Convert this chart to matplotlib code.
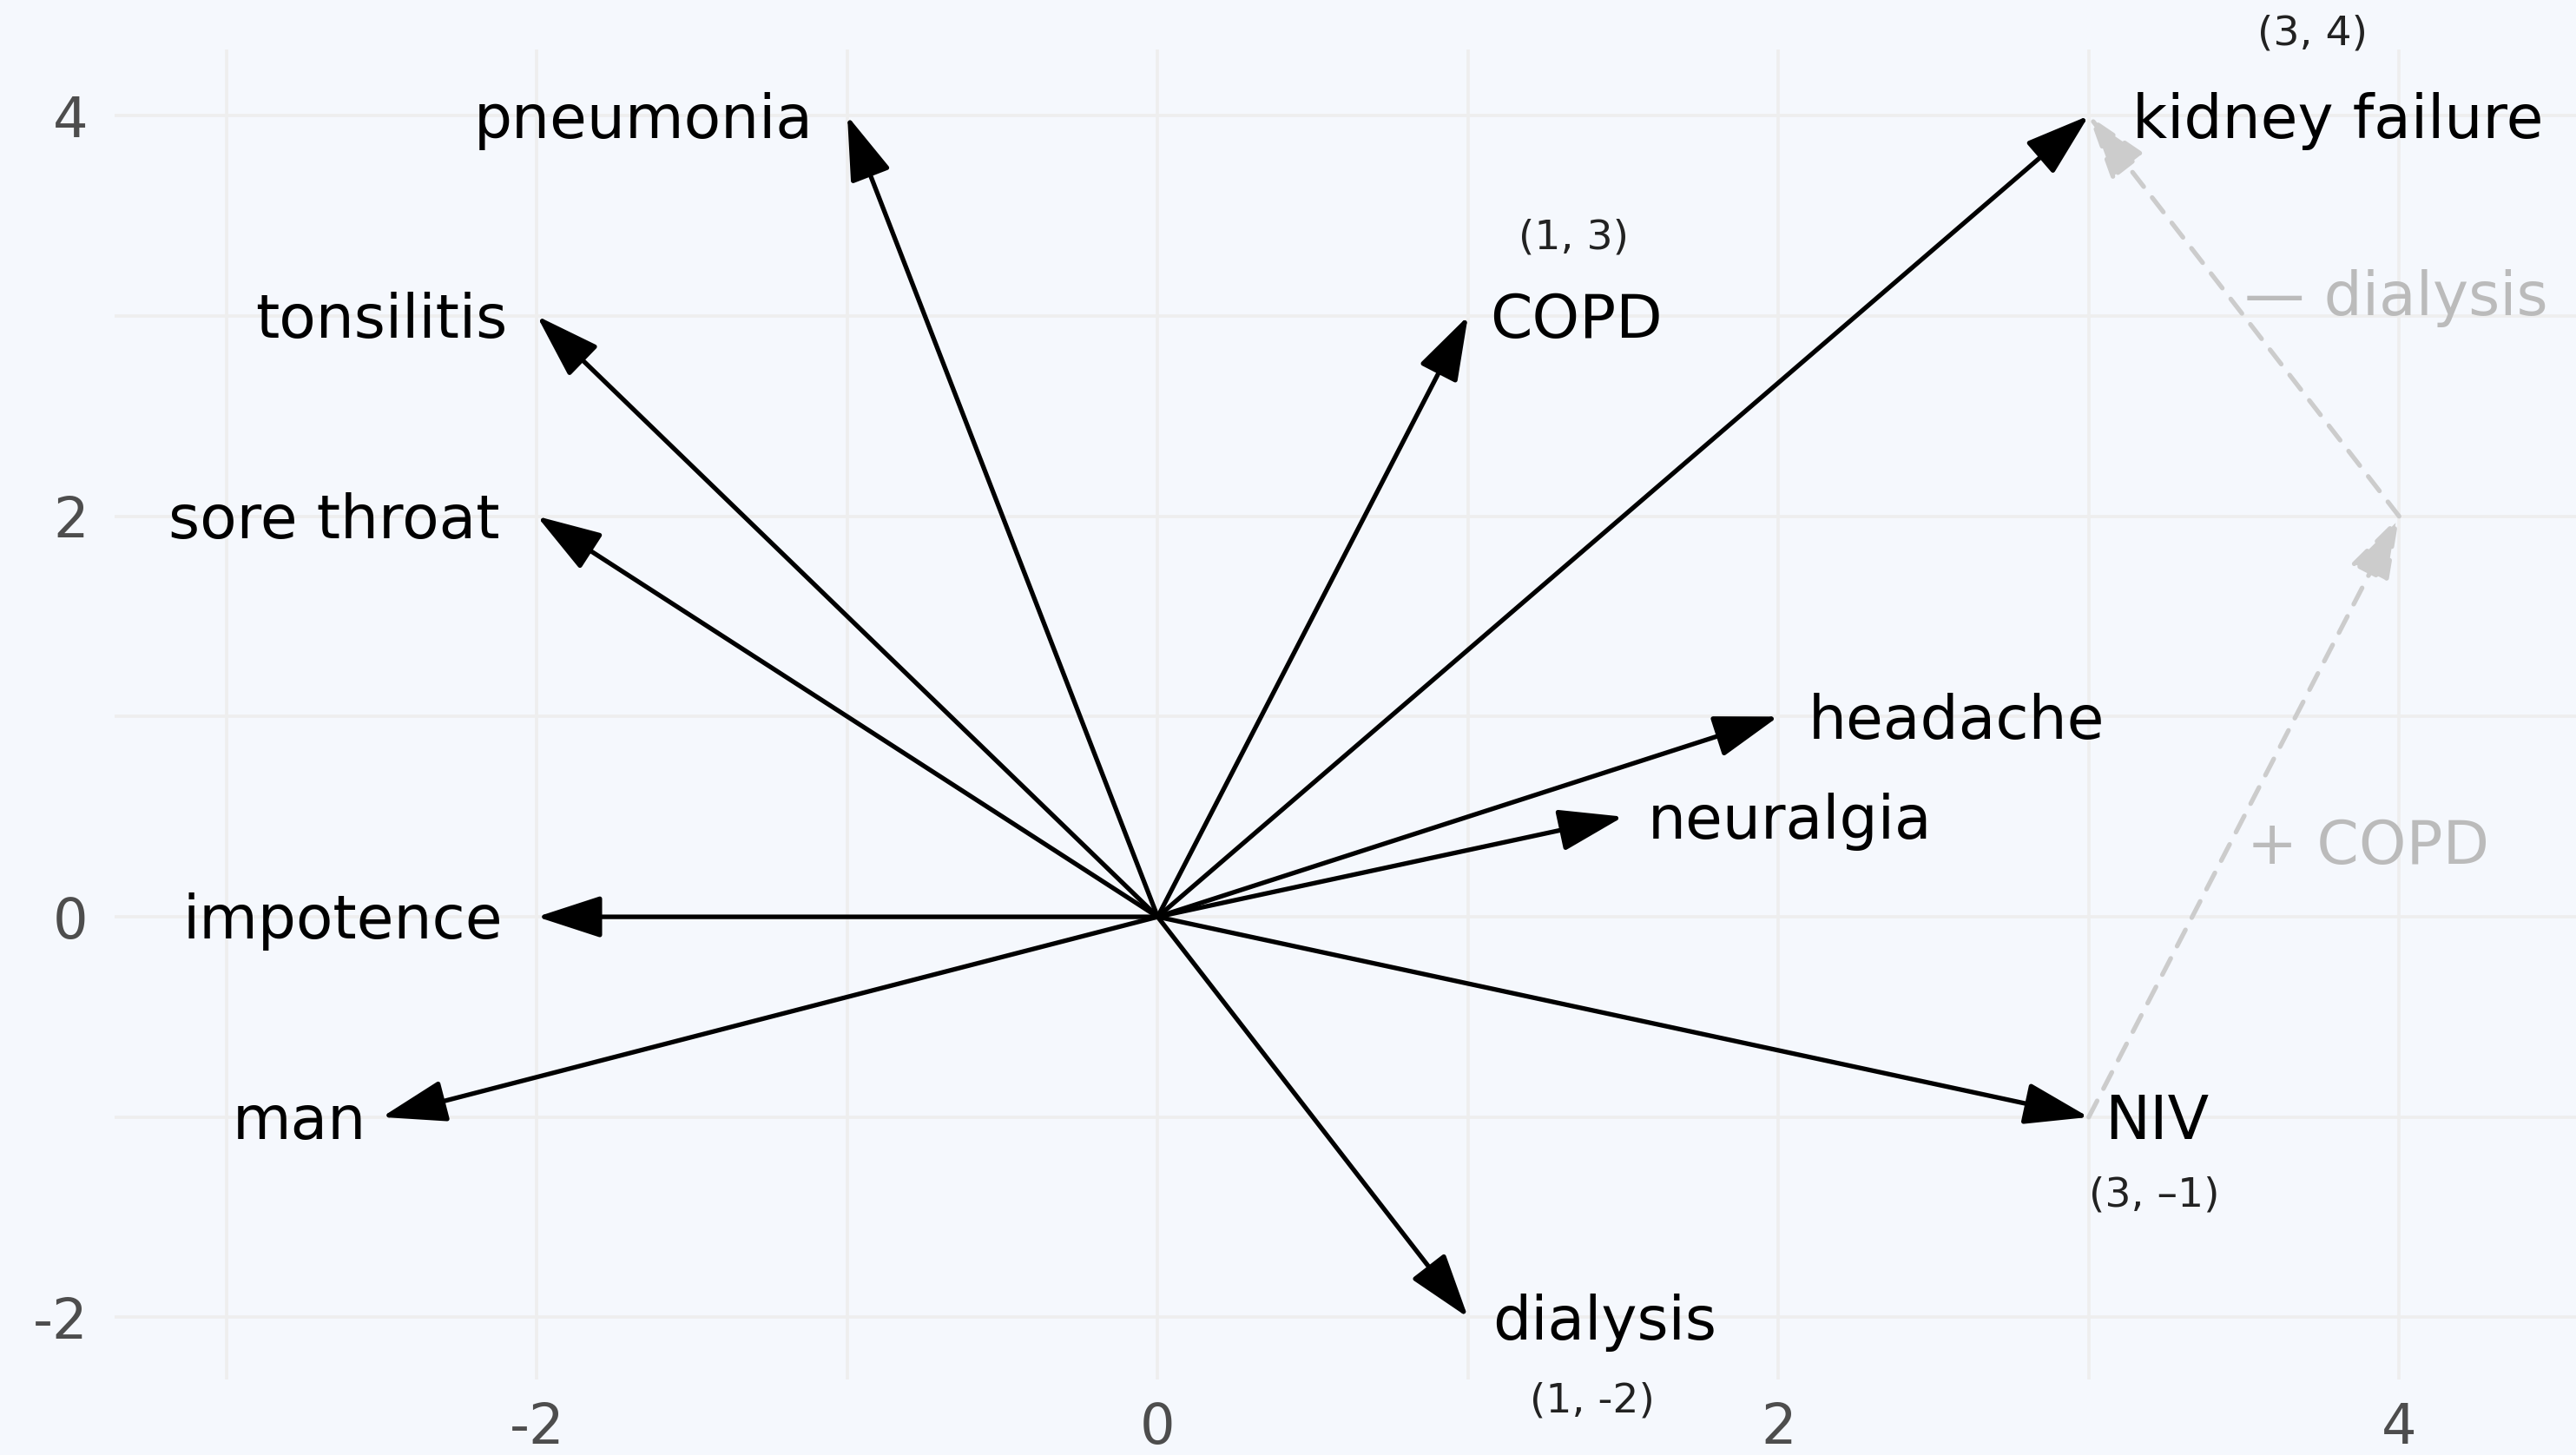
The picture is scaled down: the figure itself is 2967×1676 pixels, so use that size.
import matplotlib.pyplot as plt
from matplotlib.patches import FancyArrowPatch

# vectors from the origin
names = ['pneumonia', 'tonsilitis', 'sore throat', 'impotence', 'man',
         'COPD', 'kidney failure', 'headache', 'neuralgia', 'NIV', 'dialysis']
vec_x = [-1, -2, -2, -2, -2.5, 1, 3, 2, 1.5, 3, 1]
vec_y = [4, 3, 2, 0, -1, 3, 4, 1, 0.5, -1, -2]

# NIV + COPD - dialysis = kidney failure
path_x = [3, 4, 3]
path_y = [-1, 2, 4]
path_labels = ['+ COPD', '\u2014 dialysis']

# coordinate notes
coord_text = ['(3, 4)', '(1, 3)', '(3, \u20131)', '(1, -2)']

x_ticks = [-2, 0, 2, 4]
y_ticks = [-2, 0, 2, 4]

bg = '#F5F8FD'
grid_col = '#EEEEEE'
label_font = 'DejaVu Sans'
label_size = 25

fig = plt.figure(figsize=(2967 / 200, 1676 / 200), dpi=200)
fig.patch.set_facecolor(bg)
ax = fig.add_axes([0.0446, 0.0519, 0.9554, 0.914])
ax.set_facecolor(bg)
ax.set_xlim(-3.36, 4.57)
ax.set_ylim(-2.31, 4.33)

ax.set_xticks(x_ticks)
ax.set_xticklabels([str(t) for t in x_ticks])
ax.set_xticks([-3, -1, 1, 3], minor=True)
ax.set_yticks(y_ticks)
ax.set_yticklabels([str(t) for t in y_ticks])
ax.set_yticks([-1, 1, 3], minor=True)
ax.grid(True, which='both', color=grid_col, lw=1.3)
ax.set_axisbelow(True)
ax.tick_params(which='both', length=0, labelsize=23, labelcolor='#4D4D4D')
ax.tick_params(axis='y', pad=11)
ax.tick_params(axis='x', pad=9)
for s in ax.spines.values():
    s.set_visible(False)

head = '-|>,head_length=23,head_width=7.5'

# label nudges (data units) for each vector name
nudge = [-0.11, -0.095, -0.12, -0.11, -0.05, 0.07, 0.14, 0.095, 0.08, 0.05, 0.08]

for name, x, y, dx in zip(names, vec_x, vec_y, nudge):
    arr = FancyArrowPatch((0, 0), (x, y), arrowstyle=head, mutation_scale=1,
                          color='black', lw=1.9, shrinkA=0, shrinkB=0,
                          joinstyle='round', capstyle='round')
    ax.add_patch(arr)
    ha = 'right' if x < 0 else 'left'
    ax.text(x + dx, y - 0.025, name, ha=ha, va='center', fontsize=label_size,
            family=label_font, color='black')

# dashed grey path
for i in range(len(path_x) - 1):
    arr = FancyArrowPatch((path_x[i], path_y[i]), (path_x[i + 1], path_y[i + 1]),
                          arrowstyle=head, mutation_scale=1, color='#CCCCCC',
                          lw=1.9, linestyle=(0, (4, 3)), shrinkA=0, shrinkB=0)
    ax.add_patch(arr)

path_pos = [(3.51, 0.35), (3.5, 3.09)]
for (px, py), txt in zip(path_pos, path_labels):
    ax.text(px, py, txt, ha='left', va='center', fontsize=label_size,
            family=label_font, color='#BBBBBB')

coord_pos = [(3.72, 4.41), (1.34, 3.39), (3.21, -1.39), (1.40, -2.42)]
for (cx, cy), txt in zip(coord_pos, coord_text):
    ax.text(cx, cy, txt, ha='center', va='center', fontsize=17,
            family='DejaVu Sans', color='#222222', clip_on=False)

fig.savefig('out.png', dpi=200, facecolor=bg)
